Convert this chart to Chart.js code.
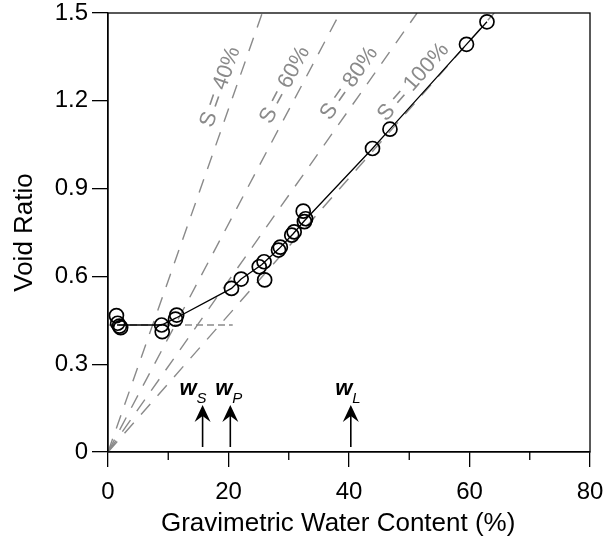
<!DOCTYPE html>
<html>
<head>
<meta charset="utf-8">
<script src="https://cdn.jsdelivr.net/npm/chart.js@4.4.1/dist/chart.umd.min.js"></script>
<style>
  html, body { margin: 0; padding: 0; background: #fff; }
  #wrap { width: 603px; height: 539px; }
</style>
</head>
<body>
<div id="wrap"><canvas id="voidChart" width="603" height="539"></canvas></div>
<script>
// measured points (water content %, void ratio)
const waterContent = [1.4, 1.6, 1.9, 2.1, 8.9, 9.0, 11.2, 11.4, 20.5, 22.1, 25.1, 25.9, 26.0, 28.3, 28.6, 30.5, 30.9, 32.4, 32.6, 32.8, 43.9, 46.8, 59.5, 62.9];
const voidRatio    = [0.466, 0.44, 0.43, 0.425, 0.434, 0.411, 0.454, 0.468, 0.559, 0.591, 0.633, 0.650, 0.588, 0.690, 0.700, 0.741, 0.752, 0.823, 0.787, 0.797, 1.037, 1.103, 1.393, 1.470];

// mean shrinkage curve
const trendW = [1.5, 8.9, 11.3, 20.5, 22.1, 25.5, 28.4, 30.7, 32.6, 43.9, 46.8, 59.5, 62.9];
const trendE = [0.434, 0.434, 0.458, 0.559, 0.591, 0.640, 0.695, 0.745, 0.790, 1.037, 1.103, 1.393, 1.470];

// saturation lines from the origin up to e = 1.5
const satLabels = ['S = 40%', 'S = 60%', 'S = 80%', 'S = 100%'];
const satEndW = [25.6, 38.5, 51.3, 64.1];
const satEndE = 1.5;

// residual void ratio plateau
const plateauW = [0, 20.7];
const plateauE = [0.434, 0.434];

// shrinkage, plastic and liquid limits
const limitNames = ['S', 'P', 'L'];
const limitW = [15.7, 20.3, 40.3];

const xTicks = [0, 20, 40, 60, 80];
const xMinorTicks = [10, 30, 50, 70];
const yTicks = [0, 0.3, 0.6, 0.9, 1.2, 1.5];

const FONT = '"Liberation Sans", Arial, Helvetica, sans-serif';
const GREY = '#8a8a8a';

const pts = (xs, ys) => xs.map((v, i) => ({ x: v, y: ys[i] }));

const datasets = [
  {
    data: pts(waterContent, voidRatio),
    pointRadius: 7,
    pointBorderWidth: 1.7,
    pointBorderColor: '#000',
    pointBackgroundColor: 'rgba(0,0,0,0)',
    showLine: false
  },
  {
    data: pts(trendW, trendE),
    showLine: true,
    borderColor: '#000',
    borderWidth: 1.3,
    pointRadius: 0
  },
  {
    data: pts(plateauW, plateauE),
    showLine: true,
    borderColor: GREY,
    borderWidth: 1.3,
    borderDash: [7, 4],
    pointRadius: 0
  }
];
satEndW.forEach(w => {
  datasets.push({
    data: [{ x: 0, y: 0 }, { x: w, y: satEndE }],
    showLine: true,
    borderColor: GREY,
    borderWidth: 1.4,
    borderDash: [14, 11],
    pointRadius: 0
  });
});

// frame, minor ticks, saturation labels and limit arrows
const decorations = {
  id: 'decorations',
  afterDatasetsDraw(chart) {
    const { ctx, chartArea: a, scales: { x, y } } = chart;
    ctx.save();
    ctx.strokeStyle = '#000';
    ctx.lineWidth = 1.3;
    ctx.strokeRect(a.left, a.top, a.right - a.left, a.bottom - a.top);

    ctx.beginPath();
    xMinorTicks.forEach(v => {
      const px = x.getPixelForValue(v);
      ctx.moveTo(px, a.bottom);
      ctx.lineTo(px, a.bottom + 8);
    });
    ctx.stroke();

    // labels along the saturation lines
    ctx.fillStyle = GREY;
    ctx.font = `22px ${FONT}`;
    ctx.textAlign = 'center';
    ctx.textBaseline = 'middle';
    satEndW.forEach((w, i) => {
      const x0 = x.getPixelForValue(0), y0 = y.getPixelForValue(0);
      const x1 = x.getPixelForValue(w), y1 = y.getPixelForValue(satEndE);
      const ang = Math.atan2(y1 - y0, x1 - x0);
      const t = 1.23 / satEndE;
      const cx = x0 + (x1 - x0) * t + Math.sin(ang) * 15;
      const cy = y0 + (y1 - y0) * t - Math.cos(ang) * 15;
      ctx.save();
      ctx.translate(cx, cy);
      ctx.rotate(ang);
      ctx.fillText(satLabels[i], 0, 0);
      ctx.restore();
    });

    // arrows for the limits
    const labelShift = [-6, 2, 1.5];
    ctx.fillStyle = '#000';
    ctx.strokeStyle = '#000';
    limitW.forEach((w, i) => {
      const px = x.getPixelForValue(w);
      const base = a.bottom - 5, tip = a.bottom - 47;
      ctx.lineWidth = 1.6;
      ctx.beginPath();
      ctx.moveTo(px, base);
      ctx.lineTo(px, tip + 8);
      ctx.stroke();
      ctx.beginPath();
      ctx.moveTo(px, tip);
      ctx.lineTo(px + 8, tip + 17);
      ctx.lineTo(px, tip + 11);
      ctx.lineTo(px - 8, tip + 17);
      ctx.closePath();
      ctx.fill();

      ctx.textBaseline = 'alphabetic';
      ctx.font = `italic bold 22px ${FONT}`;
      ctx.textAlign = 'right';
      ctx.fillText('w', px + labelShift[i], a.bottom - 57);
      ctx.font = `italic 15px ${FONT}`;
      ctx.textAlign = 'left';
      ctx.fillText(limitNames[i], px + labelShift[i], a.bottom - 49);
    });
    ctx.restore();
  }
};

new Chart(document.getElementById('voidChart'), {
  type: 'scatter',
  data: { datasets },
  options: {
    responsive: false,
    devicePixelRatio: 1,
    animation: false,
    layout: { padding: { top: 13, right: 13, left: 0, bottom: 0 } },
    plugins: { legend: { display: false }, tooltip: { enabled: false } },
    scales: {
      x: {
        type: 'linear',
        min: 0,
        max: 80,
        afterBuildTicks: s => { s.ticks = xTicks.map(v => ({ value: v })); },
        afterFit: s => { s.height = 87; s.paddingLeft = 0; s.paddingRight = 0; },
        ticks: { color: '#000', padding: 13, font: { family: FONT, size: 24, lineHeight: 1 } },
        grid: { drawOnChartArea: false, tickLength: 15, color: '#000', lineWidth: 1.3 },
        border: { color: '#000', width: 1.3 },
        title: {
          display: true,
          // trailing spaces nudge the centred title slightly left, as in the figure
          text: 'Gravimetric Water Content (%)   ',
          color: '#000',
          font: { family: FONT, size: 26 },
          padding: { top: 0, bottom: 0 }
        }
      },
      y: {
        type: 'linear',
        min: 0,
        max: 1.5,
        afterBuildTicks: s => { s.ticks = yTicks.map(v => ({ value: v })); },
        afterFit: s => { s.width = 108; s.paddingTop = 0; s.paddingBottom = 0; },
        ticks: {
          color: '#000',
          padding: 4,
          font: { family: FONT, size: 24, lineHeight: 1 },
          callback: v => String(Number(v.toFixed(1)))
        },
        grid: { drawOnChartArea: false, tickLength: 16, color: '#000', lineWidth: 1.3 },
        border: { color: '#000', width: 1.3 },
        title: {
          display: true,
          text: 'Void Ratio',
          color: '#000',
          font: { family: FONT, size: 26 },
          padding: { top: 9, bottom: 0 }
        }
      }
    }
  },
  plugins: [decorations]
});
</script>
</body>
</html>
